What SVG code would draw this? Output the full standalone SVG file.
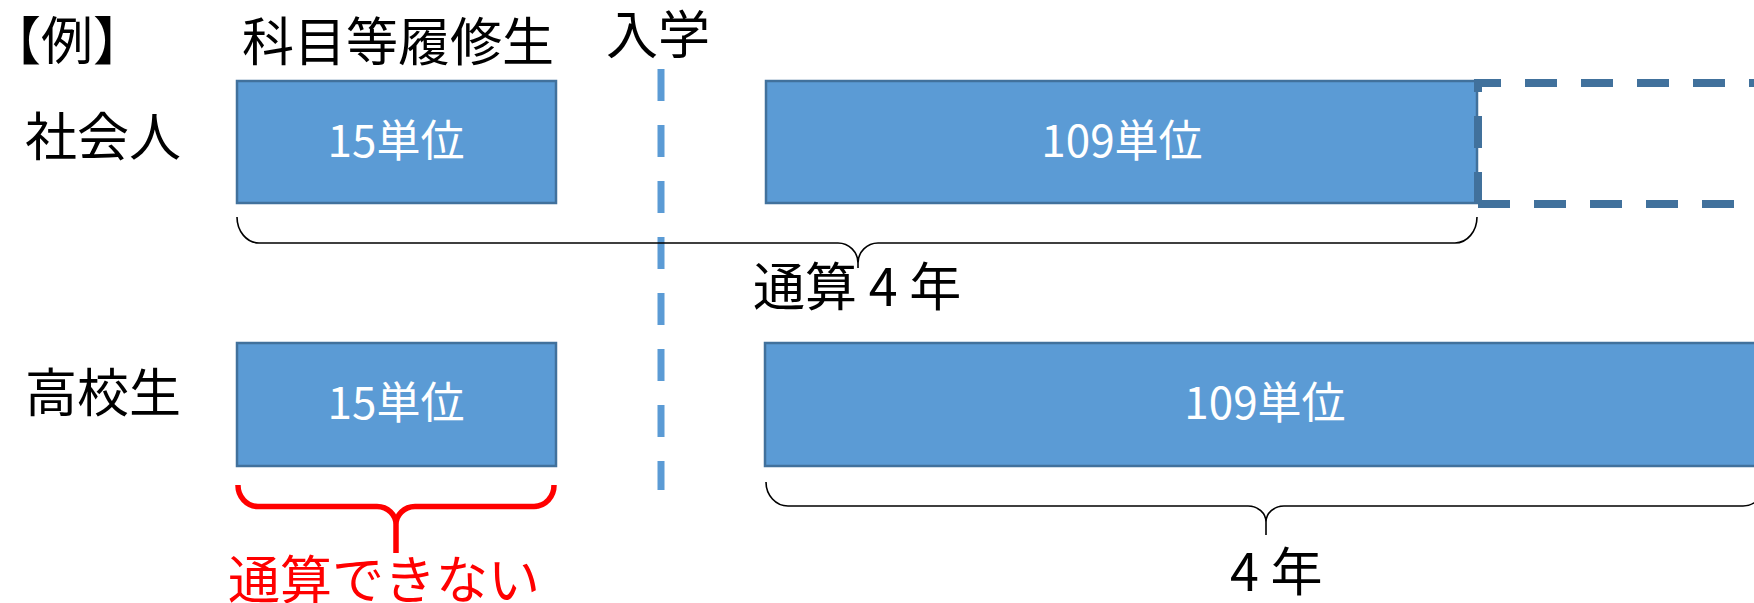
<svg xmlns="http://www.w3.org/2000/svg" width="1754" height="603" viewBox="0 0 1754 603">
<style>
.lbl{font-family:"Noto Sans CJK JP","Noto Sans",sans-serif;font-size:52px;fill:#000}
.box{fill:#5B9BD5;stroke:#41719C;stroke-width:2.5}
.btxt{font-family:"Noto Sans CJK JP","Noto Sans",sans-serif;font-size:44px;fill:#fff;text-anchor:middle}
.brace{fill:none;stroke:#000;stroke-width:1.6}
.red{fill:none;stroke:#FF0000;stroke-width:5.5}
</style>
<rect width="1754" height="603" fill="#fff"/>
<g id="title"><text class="lbl" x="15" y="60" font-size="50" style="font-feature-settings:'halt'">【例】</text></g>
<g id="header-kamoku"><text class="lbl" x="242" y="61">科目等履修生</text></g>
<g id="header-nyugaku"><text class="lbl" x="606" y="54" font-size="50">入学</text></g>
<g id="row-shakaijin"><text class="lbl" x="25" y="156">社会人</text></g>
<g id="row-koukousei"><text class="lbl" x="25" y="412">高校生</text></g>
<g id="connectors">
<line x1="661" y1="69" x2="661" y2="490" stroke="#5B9BD5" stroke-width="7" stroke-dasharray="32 24"/>
<path class="brace" d="M237,217 A22,26 0 0 0 259,243 L838,243 A20,20 0 0 1 858,263 L858,268 M858,263 A20,20 0 0 1 878,243 L1455,243 A22,26 0 0 0 1477,217"/>
<path class="brace" d="M766,482 A22,24 0 0 0 788,506 L1248,506 A18,16 0 0 1 1266,522 L1266,535 M1266,522 A18,16 0 0 1 1284,506 L1743,506 A22,24 0 0 0 1765,482"/>
<path class="red" d="M238,485 A20,21 0 0 0 258,506.5 L377,506.5 A19,18 0 0 1 396,525 L396,553 M396,525 A19,18 0 0 1 415,506.5 L534,506.5 A20,21 0 0 0 554,485"/>
</g>
<g id="node-s15"><rect class="box" x="237" y="81" width="319" height="122"/><text class="btxt" x="396" y="157">15単位</text></g>
<g id="node-s109"><rect class="box" x="766" y="81" width="711" height="122"/><text class="btxt" x="1122" y="157">109単位</text></g>
<g id="node-dashed">
<path d="M1478,204 V83 H1765 V204" fill="none" stroke="#41719C" stroke-width="8" stroke-dasharray="32 24"/>
<path d="M1478,204 H1765" fill="none" stroke="#41719C" stroke-width="8" stroke-dasharray="32 24"/>
</g>
<g id="node-k15"><rect class="box" x="237" y="343" width="319" height="123"/><text class="btxt" x="396" y="419">15単位</text></g>
<g id="node-k109"><rect class="box" x="765" y="343" width="1000" height="123"/><text class="btxt" x="1265" y="419">109単位</text></g>
<g id="label-tsusan4"><text class="lbl" x="753" y="306">通算 4 年</text></g>
<g id="label-4nen"><text class="lbl" x="1230" y="591">4 年</text></g>
<g id="label-cannot"><text class="lbl" x="228" y="599" style="fill:#FF0000">通算できない</text></g>
</svg>
